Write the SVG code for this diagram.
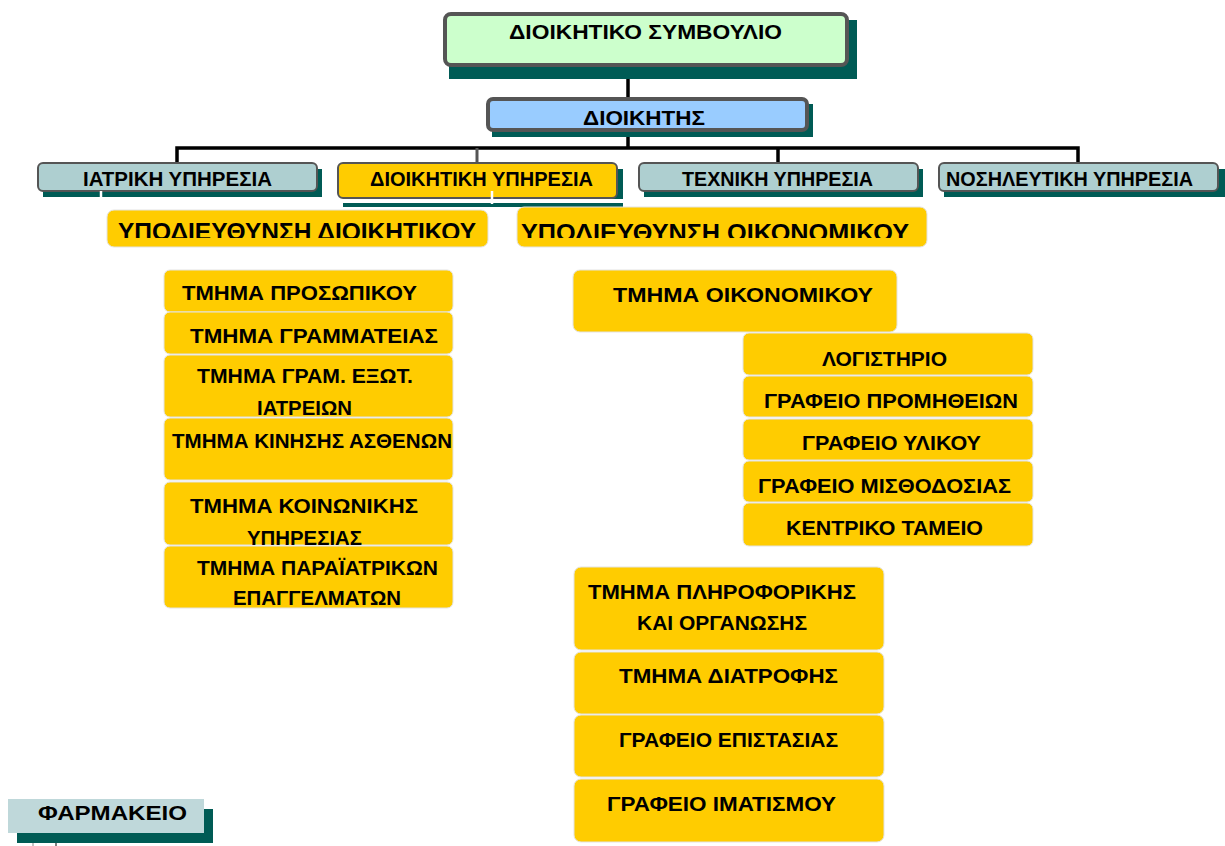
<svg xmlns="http://www.w3.org/2000/svg" width="1225" height="846" viewBox="0 0 1225 846">
<defs>
<style>
text{font-family:"Liberation Sans",Arial,sans-serif;font-weight:bold;fill:#000;}
.t20{font-size:21px;}
.t19{font-size:20px;}
.t23{font-size:24px;}
.sh{fill:#005b55;}
.top{stroke:#555;stroke-width:4;}
.mid{stroke:#555;stroke-width:2;}
.teal{fill:#aecfd0;}
.y{fill:#ffcc00;stroke:#e3e3e3;stroke-width:1;}
.ln{stroke:#000;stroke-width:3.5;fill:none;}
</style>
<clipPath id="c1"><rect x="100" y="205" width="400" height="33"/></clipPath>
<clipPath id="c2"><rect x="510" y="205" width="420" height="33"/></clipPath>
</defs>
<rect width="1225" height="846" fill="#fff"/>

<g id="connectors">
<line class="ln" x1="628" y1="65" x2="628" y2="99"/>
<line class="ln" x1="628" y1="130" x2="628" y2="149"/>
<polyline class="ln" points="177,163 177,148 1078,148 1078,163"/>
<line class="ln" x1="778" y1="148" x2="778" y2="163"/>
<line x1="477" y1="148" x2="477" y2="163" stroke="#555" stroke-width="3"/>
</g>

<g id="n-symvoulio">
<rect class="sh" x="449" y="20" width="408" height="59"/>
<rect class="top" x="445" y="14" width="402" height="51" rx="6" fill="#ccffcc"/>
<text class="t20" x="509" y="39" textLength="273" lengthAdjust="spacingAndGlyphs">ΔΙΟΙΚΗΤΙΚΟ ΣΥΜΒΟΥΛΙΟ</text>
</g>

<g id="n-dioikitis">
<rect class="sh" x="492" y="104" width="321" height="33"/>
<rect class="top" x="488" y="99" width="319" height="31" rx="5" fill="#99ccff"/>
<text class="t20" x="583" y="125" textLength="122" lengthAdjust="spacingAndGlyphs">ΔΙΟΙΚΗΤΗΣ</text>
</g>

<g id="n-iatriki">
<rect class="sh" x="43" y="169" width="279" height="28"/>
<rect class="mid teal" x="38" y="163" width="279" height="28" rx="5"/>
<line x1="101" y1="191" x2="101" y2="201" stroke="#fff" stroke-width="2.5"/>
<text class="t19" x="83" y="186" textLength="189" lengthAdjust="spacingAndGlyphs">ΙΑΤΡΙΚΗ  ΥΠΗΡΕΣΙΑ</text>
</g>

<g id="n-dioikitiki">
<rect class="sh" x="343" y="169" width="280" height="38"/>
<rect x="336" y="199" width="289" height="4" fill="#fff"/>
<rect class="mid" x="338" y="163" width="279" height="35" rx="5" fill="#ffcc00"/>
<line x1="492" y1="191" x2="492" y2="204" stroke="#fff" stroke-width="2.5"/>
<text class="t19" x="370" y="186" textLength="223" lengthAdjust="spacingAndGlyphs">ΔΙΟΙΚΗΤΙΚΗ ΥΠΗΡΕΣΙΑ</text>
</g>

<g id="n-texniki">
<rect class="sh" x="644" y="169" width="279" height="28"/>
<rect class="mid teal" x="639" y="163" width="279" height="28" rx="5"/>
<text class="t19" x="682" y="186" textLength="191" lengthAdjust="spacingAndGlyphs">ΤΕΧΝΙΚΗ ΥΠΗΡΕΣΙΑ</text>
</g>

<g id="n-nosileutiki">
<rect class="sh" x="944" y="169" width="281" height="28"/>
<rect class="mid teal" x="939" y="163" width="279" height="28" rx="5"/>
<text class="t19" x="946" y="186" textLength="247" lengthAdjust="spacingAndGlyphs">ΝΟΣΗΛΕΥΤΙΚΗ ΥΠΗΡΕΣΙΑ</text>
</g>

<g id="n-ypod-dioikitikou">
<rect class="y" x="107" y="210" width="381" height="37" rx="7"/>
<text class="t23" x="118" y="240" textLength="358" lengthAdjust="spacingAndGlyphs" clip-path="url(#c1)">ΥΠΟΔΙΕΥΘΥΝΣΗ ΔΙΟΙΚΗΤΙΚΟΥ</text>
</g>

<g id="n-ypod-oikonomikou">
<rect class="y" x="517" y="207" width="410" height="40" rx="7"/>
<text class="t23" x="521" y="241" textLength="388" lengthAdjust="spacingAndGlyphs" clip-path="url(#c2)">ΥΠΟΔΙΕΥΘΥΝΣΗ ΟΙΚΟΝΟΜΙΚΟΥ</text>
</g>

<g id="n-prosopikou">
<rect class="y" x="164" y="270" width="289" height="42" rx="6"/>
<text class="t19" x="182" y="300" textLength="235" lengthAdjust="spacingAndGlyphs">ΤΜΗΜΑ ΠΡΟΣΩΠΙΚΟΥ</text>
</g>
<g id="n-grammateias">
<rect class="y" x="164" y="312" width="289" height="42" rx="6"/>
<text class="t19" x="190" y="343" textLength="248" lengthAdjust="spacingAndGlyphs">ΤΜΗΜΑ ΓΡΑΜΜΑΤΕΙΑΣ</text>
</g>
<g id="n-exot">
<rect class="y" x="164" y="355" width="289" height="62" rx="6"/>
<text class="t19" x="197" y="383" textLength="216" lengthAdjust="spacingAndGlyphs">ΤΜΗΜΑ ΓΡΑΜ. ΕΞΩΤ.</text>
<text class="t19" x="257" y="415" textLength="95" lengthAdjust="spacingAndGlyphs">ΙΑΤΡΕΙΩΝ</text>
</g>
<g id="n-kinisis">
<rect class="y" x="164" y="418" width="289" height="62" rx="6"/>
<text class="t19" x="172" y="448" textLength="280" lengthAdjust="spacingAndGlyphs">ΤΜΗΜΑ ΚΙΝΗΣΗΣ ΑΣΘΕΝΩΝ</text>
</g>
<g id="n-koinonikis">
<rect class="y" x="164" y="482" width="289" height="63" rx="6"/>
<text class="t19" x="190" y="513" textLength="228" lengthAdjust="spacingAndGlyphs">ΤΜΗΜΑ ΚΟΙΝΩΝΙΚΗΣ</text>
<text class="t19" x="247" y="545" textLength="115" lengthAdjust="spacingAndGlyphs">ΥΠΗΡΕΣΙΑΣ</text>
</g>
<g id="n-paraiatrikon">
<rect class="y" x="164" y="546" width="289" height="62" rx="6"/>
<text class="t19" x="197" y="575" textLength="241" lengthAdjust="spacingAndGlyphs">ΤΜΗΜΑ ΠΑΡΑΪΑΤΡΙΚΩΝ</text>
<text class="t19" x="233" y="605" textLength="168" lengthAdjust="spacingAndGlyphs">ΕΠΑΓΓΕΛΜΑΤΩΝ</text>
</g>

<g id="n-oikonomikou">
<rect class="y" x="573" y="270" width="324" height="62" rx="7"/>
<text class="t19" x="613" y="302" textLength="260" lengthAdjust="spacingAndGlyphs">ΤΜΗΜΑ  ΟΙΚΟΝΟΜΙΚΟΥ</text>
</g>
<g id="n-logistirio">
<rect class="y" x="743" y="333" width="290" height="42" rx="6"/>
<text class="t19" x="822" y="366" textLength="125" lengthAdjust="spacingAndGlyphs">ΛΟΓΙΣΤΗΡΙΟ</text>
</g>
<g id="n-promitheion">
<rect class="y" x="743" y="376" width="290" height="41" rx="6"/>
<text class="t19" x="764" y="408" textLength="254" lengthAdjust="spacingAndGlyphs">ΓΡΑΦΕΙΟ ΠΡΟΜΗΘΕΙΩΝ</text>
</g>
<g id="n-ylikou">
<rect class="y" x="743" y="419" width="290" height="41" rx="6"/>
<text class="t19" x="802" y="450" textLength="179" lengthAdjust="spacingAndGlyphs">ΓΡΑΦΕΙΟ ΥΛΙΚΟΥ</text>
</g>
<g id="n-misthodosias">
<rect class="y" x="743" y="461" width="290" height="41" rx="6"/>
<text class="t19" x="758" y="493" textLength="253" lengthAdjust="spacingAndGlyphs">ΓΡΑΦΕΙΟ ΜΙΣΘΟΔΟΣΙΑΣ</text>
</g>
<g id="n-tameio">
<rect class="y" x="743" y="503" width="290" height="43" rx="6"/>
<text class="t19" x="786" y="535" textLength="197" lengthAdjust="spacingAndGlyphs">ΚΕΝΤΡΙΚΟ ΤΑΜΕΙΟ</text>
</g>

<g id="n-pliroforikis">
<rect class="y" x="574" y="567" width="310" height="83" rx="7"/>
<text class="t19" x="588" y="599" textLength="268" lengthAdjust="spacingAndGlyphs">ΤΜΗΜΑ ΠΛΗΡΟΦΟΡΙΚΗΣ</text>
<text class="t19" x="637" y="630" textLength="170" lengthAdjust="spacingAndGlyphs">ΚΑΙ ΟΡΓΑΝΩΣΗΣ</text>
</g>
<g id="n-diatrofis">
<rect class="y" x="574" y="652" width="310" height="62" rx="7"/>
<text class="t19" x="619" y="683" textLength="219" lengthAdjust="spacingAndGlyphs">ΤΜΗΜΑ ΔΙΑΤΡΟΦΗΣ</text>
</g>
<g id="n-epistasias">
<rect class="y" x="574" y="715" width="310" height="62" rx="7"/>
<text class="t19" x="619" y="747" textLength="219" lengthAdjust="spacingAndGlyphs">ΓΡΑΦΕΙΟ ΕΠΙΣΤΑΣΙΑΣ</text>
</g>
<g id="n-imatismou">
<rect class="y" x="574" y="779" width="310" height="63" rx="7"/>
<text class="t19" x="607" y="811" textLength="229" lengthAdjust="spacingAndGlyphs">ΓΡΑΦΕΙΟ ΙΜΑΤΙΣΜΟΥ</text>
</g>

<g id="n-farmakeio">
<rect class="sh" x="17" y="809" width="196" height="34"/>
<rect x="8" y="799" width="196" height="34" fill="#bfd8da"/>
<text class="t19" x="38" y="820" textLength="149" lengthAdjust="spacingAndGlyphs">ΦΑΡΜΑΚΕΙΟ</text>
<line x1="33" y1="843" x2="33" y2="846" stroke="#888" stroke-width="1"/>
<line x1="56" y1="843" x2="56" y2="846" stroke="#000" stroke-width="1"/>
</g>
</svg>
